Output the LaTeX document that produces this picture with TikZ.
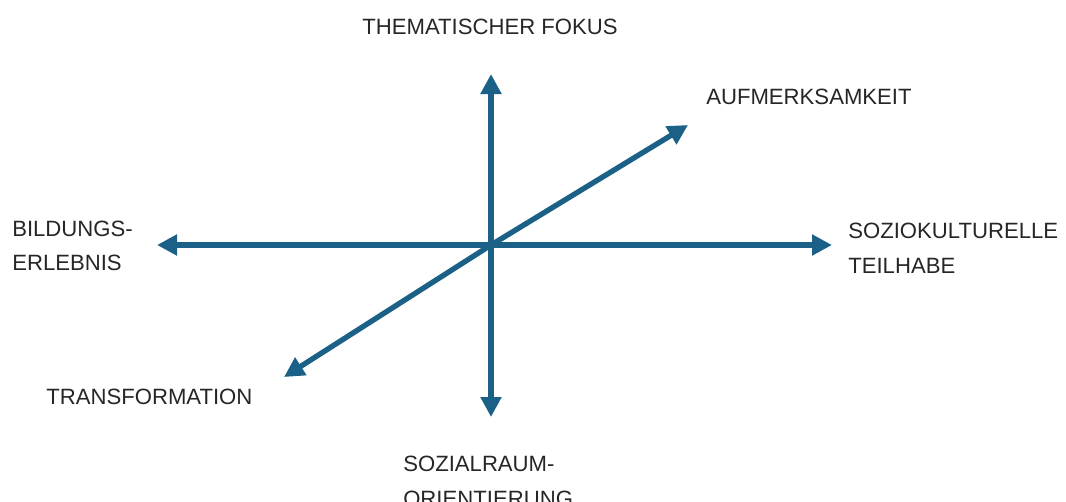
\documentclass[tikz,border=0pt]{standalone}
\usepackage{fontspec}
\setmainfont{Liberation Sans}
\usepackage{xcolor}
\usetikzlibrary{arrows.meta, calc, positioning}
\definecolor{axisblue}{RGB}{26,96,135}
\begin{document}
\begin{tikzpicture}[
    x=0.75pt, y=-0.75pt,
    axis/.style={-{Triangle[length=15pt, width=15pt]}, line width=4pt, draw=axisblue},
    lbl/.style={inner sep=0pt, align=left, font=\fontsize{16.6}{26}\selectfont, text=black!85},
]
\useasboundingbox (0,0) rectangle (1066,501);
\coordinate (origin) at (491,245);
\coordinate (top) at (491,74);
\coordinate (bottom) at (491,417);
\coordinate (left) at (157,245);
\coordinate (right) at (832,245);
\coordinate (upright) at (688,125);
\coordinate (lowleft) at (284,377);

\draw[axis] (origin) -- (top);
\draw[axis] (origin) -- (bottom);
\draw[axis] (origin) -- (left);
\draw[axis] (origin) -- (right);
\draw[axis] (origin) -- (upright);
\draw[axis] (origin) -- (lowleft);

\node[lbl] (fokus) at (490,27) {THEMATISCHER FOKUS};
\node[lbl, anchor=west] (aufmerk) at (706,97) {AUFMERKSAMKEIT};
\node[lbl, anchor=west] (teilhabe) at (848,248) {SOZIOKULTURELLE\\TEILHABE};
\node[lbl, anchor=west] (bildung) at (12,246) {BILDUNGS-\\ERLEBNIS};
\node[lbl, anchor=west] (transform) at (46,397) {TRANSFORMATION};
\node[lbl, anchor=north west] (sozial) at (403,456) {SOZIALRAUM-\\ORIENTIERUNG};
\end{tikzpicture}
\end{document}
